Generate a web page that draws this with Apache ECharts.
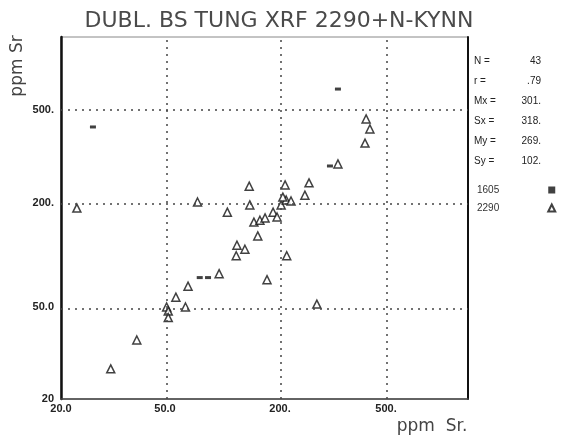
<!DOCTYPE html>
<html>
<head>
<meta charset="utf-8">
<script src="https://cdn.jsdelivr.net/npm/echarts@6/dist/echarts.min.js"></script>
<style>
html,body{margin:0;padding:0;background:#fff;}
#chart{width:563px;height:446px;}
</style>
</head>
<body>
<div id="chart"></div>
<script>
// ---- data (ppm Sr) ----
const titleText = 'DUBL. BS TUNG XRF 2290+N-KYNN';
const seriesNames = ['1605', '2290'];
const x2290 = [23, 31, 39, 51, 52, 52, 57, 64, 66, 96, 171, 118, 119, 131, 212, 153, 146, 157, 167, 184, 193, 106, 138, 139, 74, 202, 211, 220, 205, 209, 257, 248, 275, 330, 421, 435, 417];
const y2290 = [187, 27, 36, 50, 48, 45, 57, 50, 66, 78, 72, 99, 114, 108, 99, 129, 155, 159, 164, 177, 166, 177, 236, 195, 202, 195, 206, 204, 212, 239, 244, 216, 52, 294, 458, 415, 361];
const x1605 = [76, 84, 308, 26.5, 330];
const y1605 = [74, 74, 288, 423, 610];
const xTickValues = [20, 50, 200, 500];
const xTickLabels = ['20.0', '50.0', '200.', '500.'];
const yTickValues = [20, 50, 200, 500];
const yTickLabels = ['20', '50.0', '200.', '500.'];
const axisMax = 1000;
const statLabels = ['N =', 'r =', 'Mx =', 'Sx =', 'My =', 'Sy ='];
const statValues = ['43', '.79', '301.', '318.', '269.', '102.'];

// ---- scale layout: axis breakpoints (fraction of axis length) of the scanned plotter axes ----
const xKnots = xTickValues.concat([axisMax]);
const yKnots = yTickValues.concat([axisMax]);
const xFrac = [0, 104 / 407, 219 / 407, 325 / 407, 1];
const yFrac = [0, 92 / 362, 196 / 362, 289 / 362, 1];

function warp(v, knots, fr) {
  let i = 0;
  while (i < knots.length - 2 && v > knots[i + 1]) i++;
  const t = Math.log(v / knots[i]) / Math.log(knots[i + 1] / knots[i]);
  return fr[i] + (fr[i + 1] - fr[i]) * t;
}
const wx = v => warp(v, xKnots, xFrac);
const wy = v => warp(v, yKnots, yFrac);
function labelFor(val, ticks, labels, w) {
  for (let i = 0; i < ticks.length; i++) if (Math.abs(w(ticks[i]) - val) < 1e-6) return labels[i];
  return '';
}

const d2290 = x2290.map((x, i) => [wx(x), wy(y2290[i])]);
const d1605 = x1605.map((x, i) => [wx(x), wy(y1605[i])]);

const dotStyle = { type: [2, 5], color: '#444', width: 1.5 };
const gridMarks = xTickValues.slice(1).map(v => ({ xAxis: wx(v) }))
  .concat(yTickValues.slice(1).map(v => ({ yAxis: wy(v) })));

const labelFont = { fontFamily: 'Liberation Sans', fontSize: 11, fontWeight: 'bold', color: '#222' };
const textFont = '10px "Liberation Sans"';

const statGraphics = [];
statLabels.forEach((s, i) => {
  const y = 61 + i * 20;
  statGraphics.push({ type: 'text', x: 474, y: y, style: { text: s, font: textFont, fill: '#222', verticalAlign: 'middle' } });
  statGraphics.push({ type: 'text', x: 541, y: y, style: { text: statValues[i], font: textFont, fill: '#222', align: 'right', verticalAlign: 'middle' } });
});

const chart = echarts.init(document.getElementById('chart'), null, { renderer: 'canvas' });
chart.setOption({
  animation: false,
  backgroundColor: '#fff',
  title: {
    text: titleText, left: 274, top: 5, textAlign: 'center',
    textStyle: { fontFamily: 'DejaVu Sans', fontSize: 22, fontWeight: 'normal', color: '#4a4a4a' }
  },
  grid: { left: 61, top: 37, width: 407, height: 362, show: true, borderColor: '#888', borderWidth: 1 },
  legend: {
    orient: 'vertical', left: 472, top: 180, itemGap: 8, align: 'right',
    itemWidth: 7, itemHeight: 7,
    textStyle: { fontFamily: 'Liberation Sans', fontSize: 10, color: '#333', padding: [0, 44, 0, 0] },
    data: seriesNames
  },
  xAxis: {
    type: 'value', min: 0, max: 1,
    axisLine: { show: true, onZero: false, lineStyle: { color: '#444', width: 1.5 } },
    axisTick: { show: false },
    splitLine: { show: false },
    axisLabel: {
      customValues: xTickValues.map(wx), margin: 4, showMinLabel: true, hideOverlap: false,
      formatter: v => labelFor(v, xTickValues, xTickLabels, wx), ...labelFont
    }
  },
  yAxis: [{
    type: 'value', min: 0, max: 1,
    axisLine: { show: true, onZero: false, lineStyle: { color: '#111', width: 2.5 } },
    axisTick: { show: false },
    splitLine: { show: false },
    axisLabel: {
      customValues: yTickValues.map(wy), margin: 7, showMinLabel: true, hideOverlap: false,
      formatter: v => labelFor(v, yTickValues, yTickLabels, wy), ...labelFont
    }
  }, {
    type: 'value', min: 0, max: 1, position: 'right',
    axisLine: { show: true, onZero: false, lineStyle: { color: '#111', width: 2 } },
    axisTick: { show: false }, axisLabel: { show: false }, splitLine: { show: false }
  }],
  series: [{
    name: '1605', type: 'scatter', data: d1605,
    symbol: 'rect', symbolSize: [6, 3],
    itemStyle: { color: '#111' }
  }, {
    name: '2290', type: 'scatter', data: d2290,
    symbol: 'triangle', symbolSize: 8,
    itemStyle: { color: '#fff', borderColor: '#111', borderWidth: 1.5 },
    markLine: {
      silent: true, symbol: 'none', label: { show: false },
      lineStyle: dotStyle, data: gridMarks
    }
  }],
  graphic: [
    { type: 'text', x: 18, y: 66, rotation: Math.PI / 2,
      style: { text: 'ppm Sr', font: '17px "DejaVu Sans"', fill: '#444', align: 'center', verticalAlign: 'middle' } },
    { type: 'text', x: 432, y: 427,
      style: { text: 'ppm  Sr.', font: '17px "DejaVu Sans"', fill: '#444', align: 'center', verticalAlign: 'middle' } }
  ].concat(statGraphics)
});
</script>
</body>
</html>
